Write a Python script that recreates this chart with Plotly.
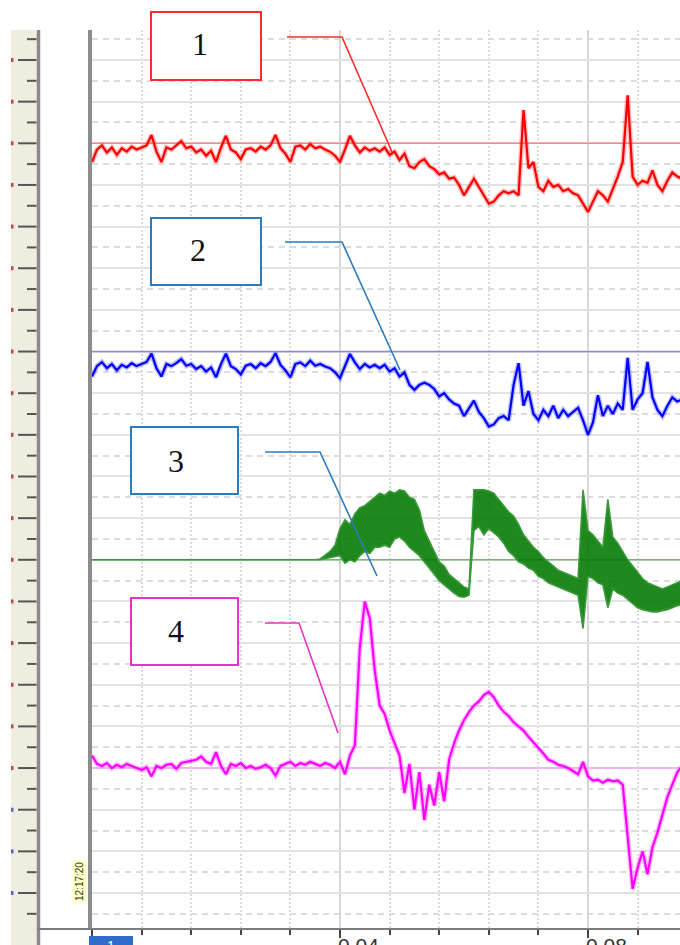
import plotly.graph_objects as go

# ---------------- data (values in grid divisions) ----------------
sample_interval = 0.0008   # s
channel_levels = [18, 13, 8, 3]          # reference levels of channels 1..4
channel_names = ["1", "2", "3", "4"]
x_tick_vals = [0.04, 0.08]
x_tick_labels = ["0.04", "0.08"]
time_label = "12:17:20"

ch1_red = [
    17.55, 17.85, 17.95, 17.78, 17.90, 17.72, 17.88, 17.80, 17.92, 17.85,
    17.90, 17.95, 18.20, 17.80, 17.55, 17.90, 17.85, 17.95, 18.05, 17.88,
    17.92, 17.78, 17.85, 17.70, 17.82, 17.55, 17.90, 18.18, 17.85, 17.78,
    17.62, 17.85, 17.88, 17.80, 17.92, 17.85, 17.95, 18.20, 17.88, 17.75,
    17.55, 17.92, 17.95, 17.85, 17.98, 17.88, 17.92, 17.85, 17.80, 17.70,
    17.55, 17.85, 18.18, 17.95, 17.78, 17.90, 17.82, 17.88, 17.80, 17.90,
    17.72, 17.80, 17.60, 17.75, 17.45, 17.40, 17.55, 17.62, 17.45, 17.38,
    17.25, 17.30, 17.15, 17.18, 17.00, 16.75, 16.95, 17.15, 16.95, 16.75,
    16.55, 16.60, 16.75, 16.85, 16.80, 16.85, 16.75, 18.80, 17.40, 17.55,
    16.95, 16.85, 17.10, 16.95, 17.00, 16.85, 16.90, 16.80, 16.75, 16.55,
    16.35, 16.60, 16.85, 16.75, 16.60, 16.90, 17.20, 17.55, 19.15, 17.20,
    17.00, 17.10, 17.05, 17.35, 17.00, 16.85, 17.10, 17.30, 17.20, 17.15,
]

ch2_blue = [
    12.40, 12.65, 12.75, 12.60, 12.70, 12.55, 12.68, 12.62, 12.72, 12.65,
    12.70, 12.75, 12.95, 12.60, 12.40, 12.70, 12.65, 12.72, 12.82, 12.66,
    12.70, 12.58, 12.65, 12.52, 12.62, 12.38, 12.70, 12.95, 12.65, 12.58,
    12.45, 12.66, 12.70, 12.60, 12.72, 12.65, 12.75, 12.96, 12.68, 12.55,
    12.38, 12.70, 12.74, 12.65, 12.78, 12.66, 12.70, 12.64, 12.60, 12.50,
    12.36, 12.65, 12.94, 12.74, 12.58, 12.70, 12.62, 12.68, 12.60, 12.68,
    12.52, 12.60, 12.40, 12.50, 12.20, 12.08, 12.20, 12.25, 12.20, 12.10,
    11.92, 12.00, 11.85, 11.75, 11.70, 11.45, 11.62, 11.82, 11.55, 11.40,
    11.20, 11.25, 11.40, 11.45, 11.35, 12.20, 12.72, 11.70, 12.05, 11.50,
    11.35, 11.60, 11.45, 11.70, 11.40, 11.60, 11.45, 11.55, 11.65, 11.35,
    11.00, 11.30, 11.95, 11.45, 11.70, 11.50, 11.75, 11.60, 12.85, 11.60,
    11.85, 12.00, 12.75, 11.90, 11.60, 11.45, 11.70, 11.90, 11.80, 11.85,
]

# channel 3 is a dense oscillation: upper and lower envelope
ch3_green_hi = [
    8.00, 8.00, 8.00, 8.00, 8.00, 8.00, 8.00, 8.00, 8.00, 8.00,
    8.00, 8.00, 8.00, 8.00, 8.00, 8.00, 8.00, 8.00, 8.00, 8.00,
    8.00, 8.00, 8.00, 8.00, 8.00, 8.00, 8.00, 8.00, 8.00, 8.00,
    8.00, 8.00, 8.00, 8.00, 8.00, 8.00, 8.00, 8.00, 8.00, 8.00,
    8.00, 8.00, 8.00, 8.00, 8.00, 8.00, 8.02, 8.10, 8.20, 8.35,
    8.75, 8.96, 8.85, 9.10, 9.25, 9.30, 9.40, 9.50, 9.60, 9.55,
    9.65, 9.60, 9.68, 9.65, 9.50, 9.45, 9.20, 8.70, 8.45, 8.20,
    7.95, 7.85, 7.65, 7.55, 7.45, 7.35, 7.30, 9.68, 9.68, 9.68,
    9.65, 9.60, 9.45, 9.30, 9.15, 9.05, 8.85, 8.60, 8.45, 8.30,
    8.20, 8.05, 7.95, 7.85, 7.75, 7.70, 7.65, 7.60, 7.55, 9.68,
    8.70, 8.60, 8.45, 8.30, 9.45, 8.55, 8.40, 8.20, 8.00, 7.85,
    7.70, 7.55, 7.45, 7.40, 7.35, 7.30, 7.35, 7.40, 7.45, 7.50,
]
ch3_green_lo = [
    8.00, 8.00, 8.00, 8.00, 8.00, 8.00, 8.00, 8.00, 8.00, 8.00,
    8.00, 8.00, 8.00, 8.00, 8.00, 8.00, 8.00, 8.00, 8.00, 8.00,
    8.00, 8.00, 8.00, 8.00, 8.00, 8.00, 8.00, 8.00, 8.00, 8.00,
    8.00, 8.00, 8.00, 8.00, 8.00, 8.00, 8.00, 8.00, 8.00, 8.00,
    8.00, 8.00, 8.00, 8.00, 8.00, 8.00, 8.00, 8.02, 8.05, 8.08,
    8.10, 7.92, 8.00, 7.95, 8.10, 8.20, 8.15, 8.30, 8.30, 8.35,
    8.30, 8.50, 8.55, 8.45, 8.30, 8.20, 8.10, 7.95, 7.80, 7.65,
    7.50, 7.40, 7.30, 7.20, 7.12, 7.10, 7.15, 8.70, 8.80, 8.60,
    8.75, 8.65, 8.55, 8.40, 8.20, 8.10, 7.95, 7.90, 7.80, 7.75,
    7.60, 7.55, 7.45, 7.40, 7.35, 7.30, 7.25, 7.20, 7.15, 6.35,
    7.60, 7.55, 7.45, 7.40, 6.85, 7.30, 7.20, 7.15, 7.05, 6.95,
    6.85, 6.80, 6.78, 6.75, 6.75, 6.78, 6.80, 6.85, 6.90, 6.92,
]

ch4_magenta = [
    3.30, 3.10, 3.05, 3.12, 3.00, 3.08, 3.02, 3.10, 3.05, 3.00,
    2.95, 3.02, 2.80, 3.05, 3.00, 3.08, 3.10, 2.98, 3.12, 3.15,
    3.18, 3.20, 3.28, 3.15, 3.10, 3.38, 3.05, 2.85, 3.10, 3.05,
    3.12, 3.00, 3.05, 2.98, 3.02, 3.08, 3.00, 2.82, 3.05, 3.10,
    3.15, 3.05, 3.12, 3.08, 3.15, 3.10, 3.05, 3.12, 3.08, 3.00,
    3.15, 2.85, 3.30, 3.55, 5.90, 7.00, 6.60, 5.35, 4.50, 4.30,
    3.90, 3.60, 3.30, 2.40, 3.10, 2.00, 2.90, 1.75, 2.60, 2.10,
    2.90, 2.20, 3.20, 3.60, 3.90, 4.15, 4.35, 4.50, 4.60, 4.75,
    4.83, 4.70, 4.50, 4.35, 4.25, 4.10, 4.00, 3.90, 3.75, 3.62,
    3.50, 3.35, 3.20, 3.15, 3.08, 3.05, 3.00, 2.92, 2.85, 3.15,
    2.80, 2.70, 2.72, 2.65, 2.72, 2.68, 2.70, 2.60, 1.40, 0.10,
    0.60, 1.00, 0.45, 1.10, 1.45, 1.90, 2.30, 2.60, 2.90, 3.05,
]

time_s = [round(i * sample_interval, 4) for i in range(len(ch1_red))]

# ---------------- layout geometry (pixels) ----------------
W, H = 680, 945
PL, PR, PT, PB = 92, 680, 30, 928
X_RANGE = [0, 0.094839]
Y_RANGE = [-0.8403, 20.720]


def xp(px):
    return (px - PL) / (PR - PL)


def yp(py):
    return (PB - py) / (PB - PT)


def yv(v):
    return (v - Y_RANGE[0]) / (Y_RANGE[1] - Y_RANGE[0])


fig = go.Figure()

# reference level lines
level_colors = ["#ff6a6a", "#6a6aff", "#4cb04c", "#ff90ff"]
for lvl, col in zip(channel_levels, level_colors):
    fig.add_trace(go.Scatter(x=[X_RANGE[0], X_RANGE[1]], y=[lvl, lvl], mode="lines",
                             line=dict(color=col, width=1.5), opacity=0.75, hoverinfo="skip"))

# channel 3 band
fig.add_trace(go.Scatter(x=time_s + time_s[::-1], y=ch3_green_hi + ch3_green_lo[::-1],
                         mode="lines", fill="toself", fillcolor="rgba(0,120,0,0.88)",
                         line=dict(color="#3a9a3a", width=1.6), hoverinfo="skip"))

for ys, halo, main in [(ch1_red, "rgba(255,70,70,0.35)", "#ff0000"),
                       (ch2_blue, "rgba(70,70,255,0.35)", "#0000ff"),
                       (ch4_magenta, "rgba(255,70,255,0.35)", "#ff00ff")]:
    fig.add_trace(go.Scatter(x=time_s, y=ys, mode="lines",
                             line=dict(color=halo, width=5), hoverinfo="skip"))
    fig.add_trace(go.Scatter(x=time_s, y=ys, mode="lines",
                             line=dict(color=main, width=2.2), hoverinfo="skip"))

shapes = []
annotations = []

# left ruler
shapes.append(dict(type="rect", xref="paper", yref="paper", x0=xp(11), x1=xp(37),
                   y0=yp(PT), y1=yp(H + 5), fillcolor="#efece0", line=dict(width=0), layer="below"))
shapes.append(dict(type="line", xref="paper", yref="paper", x0=xp(38.5), x1=xp(38.5),
                   y0=yp(PT), y1=yp(H + 5), line=dict(color="#8a8a8a", width=3.5)))
for k in range(0, 21):
    y = yv(k)
    shapes.append(dict(type="line", xref="paper", yref="paper", x0=xp(18), x1=xp(36.5),
                       y0=y, y1=y, line=dict(color="#555555", width=2)))
    shapes.append(dict(type="line", xref="paper", yref="paper", x0=xp(11), x1=xp(13.5),
                       y0=y, y1=y, line=dict(color="#c04848" if k >= 3 else "#6060c8", width=4)))
for k in range(-1, 21):
    y = yv(k + 0.5)
    if y < 0 or y > 1:
        continue
    shapes.append(dict(type="line", xref="paper", yref="paper", x0=xp(27), x1=xp(36.5),
                       y0=y, y1=y, line=dict(color="#555555", width=2)))

# bottom axis line extension to ruler
shapes.append(dict(type="line", xref="paper", yref="paper", x0=xp(38), x1=xp(PL),
                   y0=yp(929), y1=yp(929), line=dict(color="#7c7c7c", width=2)))

# time label
annotations.append(dict(xref="paper", yref="paper", x=xp(71.5), y=yp(903.5), text=time_label,
                        textangle=-90, showarrow=False, bgcolor="#ffffc4",
                        font=dict(family="Liberation Sans", size=10, color="#333333"),
                        borderpad=1))

# bottom blue marker
shapes.append(dict(type="rect", xref="paper", yref="paper", x0=xp(89), x1=xp(133),
                   y0=yp(936), y1=yp(955), fillcolor="#2d6cc8", line=dict(width=0)))
annotations.append(dict(xref="paper", yref="paper", x=xp(111), y=yp(936), text="1",
                        showarrow=False, xanchor="center", yanchor="top",
                        font=dict(family="Liberation Sans", size=14, color="white")))

# x tick labels (left aligned at tick)
for v, lab in zip(x_tick_vals, x_tick_labels):
    annotations.append(dict(xref="x", yref="paper", x=v, y=yp(932), text=lab, showarrow=False,
                            xanchor="left", yanchor="top", xshift=-4,
                            font=dict(family="Liberation Sans", size=21, color="#333333")))

# labelled boxes with leader lines
boxes = [
    dict(col="#ff2a2a", box=(151, 12, 261, 80), txt=(200, 44),
         lead=[(287, 37), (342, 37), (392, 152)]),
    dict(col="#2b7bbf", box=(151, 218, 261, 285), txt=(198, 250),
         lead=[(285, 242), (342, 242), (400, 370)]),
    dict(col="#2b7bbf", box=(131, 427, 238, 494), txt=(176, 461),
         lead=[(265, 452), (320, 452), (377, 576)]),
    dict(col="#e633c4", box=(131, 598, 238, 665), txt=(176, 631),
         lead=[(265, 623), (299, 623), (338, 733)]),
]
for b, name in zip(boxes, channel_names):
    x0, y0, x1, y1 = b["box"]
    shapes.append(dict(type="rect", xref="paper", yref="paper", x0=xp(x0), x1=xp(x1),
                       y0=yp(y0), y1=yp(y1), fillcolor="white", line=dict(color=b["col"], width=2)))
    path = "M " + " L ".join(f"{xp(px):.5f},{yp(py):.5f}" for px, py in b["lead"])
    shapes.append(dict(type="path", xref="paper", yref="paper", path=path,
                       line=dict(color=b["col"], width=1.6)))
    annotations.append(dict(xref="paper", yref="paper", x=xp(b["txt"][0]), y=yp(b["txt"][1]),
                            text=name, showarrow=False, xanchor="center", yanchor="middle",
                            font=dict(family="Liberation Serif", size=32, color="#111111")))

fig.update_layout(
    width=W, height=H, autosize=False,
    margin=dict(l=PL, r=W - PR, t=PT, b=H - PB, pad=0),
    paper_bgcolor="white", plot_bgcolor="white",
    showlegend=False, hovermode=False,
    shapes=shapes, annotations=annotations,
    xaxis=dict(range=X_RANGE, tick0=0, dtick=0.04, showgrid=True, gridcolor="#d6d6d6",
               gridwidth=2, zeroline=False, showticklabels=False,
               ticks="outside", ticklen=8, tickwidth=2, tickcolor="#444444",
               showline=True, linewidth=2, linecolor="#7c7c7c",
               minor=dict(dtick=0.008, showgrid=True, gridcolor="#dadada", griddash="2px,2px",
                          gridwidth=2, ticks="outside", ticklen=5, tickwidth=2,
                          tickcolor="#444444")),
    yaxis=dict(range=Y_RANGE, tick0=0, dtick=1, showgrid=True, gridcolor="#e2e2e2",
               gridwidth=1.5, zeroline=False, showticklabels=False, ticks="",
               showline=True, linewidth=4, linecolor="#8c8c8c",
               minor=dict(dtick=0.5, showgrid=True, gridcolor="#dcdcdc", griddash="6px,5px",
                          gridwidth=1.5)),
)

fig.write_html("out.html", config={"displayModeBar": False},
               post_script="document.body.style.margin='0';document.body.style.overflow='hidden';")
